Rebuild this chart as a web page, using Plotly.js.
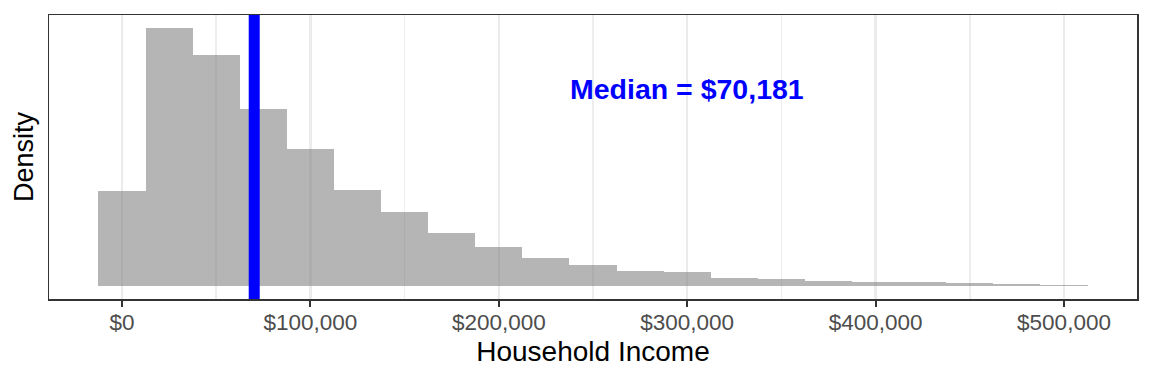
<!DOCTYPE html>
<html>
<head>
<meta charset="utf-8">
<script src="https://cdn.plot.ly/plotly-3.0.1.min.js"></script>
<style>html,body{margin:0;padding:0;background:#fff;}#chart{width:1152px;height:384px;}</style>
</head>
<body>
<div id="chart"></div>
<script>
// Histogram bin centers (household income, $) and density values (per $1,000,000)
const binCenters = [0, 25000, 50000, 75000, 100000, 125000, 150000, 175000, 200000, 225000,
  250000, 275000, 300000, 325000, 350000, 375000, 400000, 425000, 450000, 475000, 500000];
const densityPerMillion = [3.00, 8.13, 7.28, 5.59, 4.33, 3.04, 2.32, 1.66, 1.22, 0.88,
  0.68, 0.46, 0.44, 0.25, 0.21, 0.15, 0.12, 0.12, 0.085, 0.053, 0.022];
const binWidth = 25000;
const medianIncome = 70181;
const medianLabel = "Median = $70,181";
const majorTicks = [0, 100000, 200000, 300000, 400000, 500000];
const majorTickLabels = ["$0", "$100,000", "$200,000", "$300,000", "$400,000", "$500,000"];
const minorTicks = [50000, 150000, 250000, 350000, 450000];

const density = densityPerMillion.map(v => v / 1e6);
const maxD = Math.max(...density);
const xMin = binCenters[0] - binWidth / 2, xMax = binCenters[binCenters.length - 1] + binWidth / 2;
const xPad = (xMax - xMin) * 0.05;
const FONT = "Liberation Sans, Arial, Helvetica, sans-serif";

const trace = {
  type: "bar",
  x: binCenters,
  y: density,
  width: binCenters.map(() => binWidth),
  marker: {color: "rgba(127,127,127,0.58)", line: {width: 0}},
  hoverinfo: "x+y"
};

const layout = {
  width: 1152, height: 384,
  margin: {l: 49, r: 15, t: 15, b: 85},
  paper_bgcolor: "#ffffff", plot_bgcolor: "#ffffff",
  font: {family: FONT, color: "#000000"},
  showlegend: false,
  bargap: 0,
  xaxis: {
    range: [xMin - xPad, xMax + xPad],
    tickmode: "array", tickvals: majorTicks, ticktext: majorTickLabels,
    tickfont: {size: 22.5, color: "#4D4D4D", family: FONT},
    ticks: "outside", ticklen: 6, tickwidth: 2, tickcolor: "#333333",
    ticklabelstandoff: -4,
    showgrid: true, gridcolor: "#EBEBEB", gridwidth: 2.5,
    minor: {tickvals: minorTicks, showgrid: true, gridcolor: "#EDEDED", gridwidth: 1.5, ticks: ""},
    zeroline: false,
    showline: true, mirror: true, linecolor: "#333333", linewidth: 1.5,
    title: {text: "Household Income", font: {size: 28, color: "#000000", family: FONT}, standoff: 8}
  },
  yaxis: {
    range: [-0.05 * maxD, 1.05 * maxD],
    showticklabels: false, ticks: "", showgrid: false, zeroline: false,
    showline: true, mirror: true, linecolor: "#333333", linewidth: 1.5,
    title: {text: "Density", font: {size: 27, color: "#000000", family: FONT}, standoff: 6}
  },
  shapes: [{
    type: "line", xref: "x", yref: "paper",
    x0: medianIncome, x1: medianIncome, y0: 0, y1: 1,
    line: {color: "#0000FF", width: 11}
  }],
  annotations: [{
    x: 300000, y: 0.762 * maxD, xref: "x", yref: "y",
    text: "<b>" + medianLabel + "</b>", showarrow: false,
    xanchor: "center", yanchor: "middle",
    font: {size: 28.5, color: "#0000FF", family: FONT}
  }]
};

Plotly.newPlot("chart", [trace], layout, {displayModeBar: false, staticPlot: true});
</script>
</body>
</html>
